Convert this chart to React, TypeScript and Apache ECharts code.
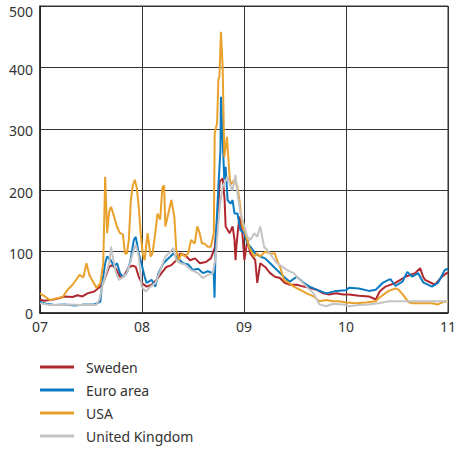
import React, { useEffect, useRef } from "react";
import * as echarts from "echarts";

// x values are decimal years, y values are basis points
const sweden: [number, number][] = [
  [2007.0, 22], [2007.039, 20], [2007.106, 21], [2007.165, 23], [2007.242, 27], [2007.319, 26], [2007.368, 29],
  [2007.416, 27], [2007.465, 32], [2007.532, 35], [2007.591, 43], [2007.62, 50], [2007.649, 62], [2007.678, 75],
  [2007.707, 78], [2007.745, 72], [2007.784, 59], [2007.823, 60], [2007.871, 75], [2007.91, 77], [2007.939, 75],
  [2007.968, 59], [2007.997, 49], [2008.045, 43], [2008.094, 46], [2008.142, 54], [2008.191, 65], [2008.239, 75],
  [2008.288, 78], [2008.336, 86], [2008.375, 97], [2008.423, 94], [2008.471, 86], [2008.52, 89], [2008.568, 81],
  [2008.626, 83], [2008.675, 89], [2008.713, 106], [2008.743, 162], [2008.762, 214], [2008.791, 219],
  [2008.81, 184], [2008.82, 141], [2008.859, 130], [2008.888, 141], [2008.907, 119], [2008.917, 86],
  [2008.926, 110], [2008.955, 157], [2008.984, 130], [2009.004, 86], [2009.033, 119], [2009.062, 97],
  [2009.11, 86], [2009.13, 49], [2009.159, 81], [2009.207, 75], [2009.256, 65], [2009.304, 59], [2009.352, 57],
  [2009.401, 49], [2009.449, 46], [2009.517, 46], [2009.585, 43], [2009.643, 41], [2009.711, 38], [2009.778, 32],
  [2009.836, 30], [2009.904, 32], [2009.972, 30], [2010.029, 30], [2010.127, 28], [2010.224, 27], [2010.292, 22],
  [2010.33, 35], [2010.388, 43], [2010.485, 49], [2010.582, 59], [2010.678, 65], [2010.727, 73], [2010.756, 59],
  [2010.775, 54], [2010.872, 46], [2010.94, 59], [2010.988, 65], [2011.0, 66],
];

const euroArea: [number, number][] = [
  [2007.0, 18], [2007.058, 15], [2007.145, 13], [2007.242, 14], [2007.339, 12], [2007.436, 14], [2007.532, 14],
  [2007.591, 18], [2007.61, 49], [2007.639, 81], [2007.658, 92], [2007.694, 86], [2007.726, 76], [2007.755, 81],
  [2007.784, 65], [2007.813, 59], [2007.852, 65], [2007.888, 86], [2007.92, 119], [2007.939, 124], [2007.968, 97],
  [2007.994, 81], [2008.026, 59], [2008.045, 49], [2008.094, 54], [2008.13, 43], [2008.162, 65], [2008.21, 81],
  [2008.239, 86], [2008.278, 92], [2008.307, 97], [2008.336, 92], [2008.372, 86], [2008.404, 81], [2008.452, 79],
  [2008.5, 70], [2008.549, 72], [2008.597, 65], [2008.646, 68], [2008.694, 65], [2008.704, 62], [2008.711, 25],
  [2008.723, 119], [2008.749, 206], [2008.769, 265], [2008.774, 352], [2008.791, 282], [2008.807, 217],
  [2008.82, 238], [2008.839, 184], [2008.868, 178], [2008.888, 184], [2008.907, 162], [2008.936, 162],
  [2008.965, 135], [2009.004, 130], [2009.033, 113], [2009.062, 108], [2009.11, 97], [2009.159, 92],
  [2009.207, 89], [2009.256, 81], [2009.323, 70], [2009.391, 59], [2009.449, 51], [2009.517, 59], [2009.585, 49],
  [2009.643, 43], [2009.711, 38], [2009.807, 32], [2009.904, 36], [2010.0, 37], [2010.029, 41], [2010.127, 40],
  [2010.224, 36], [2010.292, 38], [2010.359, 49], [2010.417, 54], [2010.437, 55], [2010.485, 44], [2010.553, 51],
  [2010.601, 67], [2010.65, 59], [2010.707, 65], [2010.756, 50], [2010.843, 43], [2010.901, 49], [2010.969, 70],
  [2011.0, 72],
];

const usa: [number, number][] = [
  [2007.0, 32], [2007.039, 28], [2007.097, 21], [2007.165, 24], [2007.223, 26], [2007.271, 38], [2007.319, 46],
  [2007.358, 55], [2007.387, 62], [2007.426, 58], [2007.455, 81], [2007.484, 62], [2007.523, 50], [2007.552, 41],
  [2007.591, 48], [2007.62, 80], [2007.639, 222], [2007.658, 130], [2007.678, 165], [2007.697, 173],
  [2007.726, 157], [2007.755, 140], [2007.784, 130], [2007.813, 128], [2007.833, 97], [2007.852, 97],
  [2007.871, 119], [2007.891, 184], [2007.91, 208], [2007.929, 217], [2007.949, 204], [2007.968, 173],
  [2007.987, 130], [2008.007, 97], [2008.026, 86], [2008.055, 130], [2008.084, 92], [2008.103, 97],
  [2008.13, 130], [2008.152, 162], [2008.178, 152], [2008.2, 204], [2008.217, 208], [2008.229, 141],
  [2008.258, 162], [2008.288, 184], [2008.317, 157], [2008.336, 103], [2008.362, 86], [2008.387, 97],
  [2008.42, 92], [2008.452, 97], [2008.481, 119], [2008.517, 113], [2008.542, 141], [2008.565, 130],
  [2008.588, 113], [2008.614, 113], [2008.646, 108], [2008.675, 108], [2008.704, 130], [2008.713, 293],
  [2008.736, 309], [2008.749, 380], [2008.759, 385], [2008.774, 458], [2008.791, 400], [2008.807, 254],
  [2008.833, 287], [2008.856, 228], [2008.868, 209], [2008.907, 217], [2008.936, 205], [2008.955, 184],
  [2008.984, 141], [2009.014, 130], [2009.049, 108], [2009.098, 92], [2009.13, 97], [2009.159, 92],
  [2009.207, 100], [2009.256, 97], [2009.304, 97], [2009.323, 86], [2009.352, 76], [2009.391, 54],
  [2009.439, 49], [2009.488, 43], [2009.546, 38], [2009.614, 32], [2009.682, 27], [2009.74, 19], [2009.807, 21],
  [2009.875, 19], [2009.933, 19], [2010.0, 17], [2010.098, 16], [2010.195, 17], [2010.292, 19], [2010.32, 24],
  [2010.417, 36], [2010.485, 40], [2010.514, 38], [2010.562, 29], [2010.611, 18], [2010.65, 16], [2010.746, 16],
  [2010.843, 16], [2010.901, 14], [2010.969, 19], [2011.0, 18],
];

const unitedKingdom: [number, number][] = [
  [2007.0, 16], [2007.097, 13], [2007.194, 13], [2007.29, 14], [2007.387, 13], [2007.484, 14], [2007.552, 13],
  [2007.581, 21], [2007.61, 43], [2007.649, 65], [2007.678, 81], [2007.697, 108], [2007.707, 97], [2007.745, 65],
  [2007.774, 54], [2007.803, 57], [2007.852, 65], [2007.891, 86], [2007.92, 103], [2007.939, 111], [2007.968, 92],
  [2007.997, 43], [2008.036, 35], [2008.084, 43], [2008.133, 49], [2008.181, 70], [2008.229, 92], [2008.278, 100],
  [2008.307, 106], [2008.336, 86], [2008.375, 81], [2008.423, 79], [2008.481, 70], [2008.549, 65], [2008.597, 57],
  [2008.646, 62], [2008.694, 65], [2008.723, 92], [2008.762, 173], [2008.791, 206], [2008.839, 222],
  [2008.868, 206], [2008.888, 200], [2008.917, 225], [2008.936, 195], [2008.965, 162], [2009.004, 141],
  [2009.033, 124], [2009.062, 119], [2009.101, 130], [2009.13, 124], [2009.159, 141], [2009.197, 108],
  [2009.226, 103], [2009.275, 92], [2009.323, 81], [2009.372, 76], [2009.42, 70], [2009.488, 65], [2009.546, 54],
  [2009.614, 43], [2009.682, 32], [2009.74, 14], [2009.807, 11], [2009.875, 15], [2009.972, 14], [2010.029, 11],
  [2010.127, 13], [2010.224, 14], [2010.32, 16], [2010.417, 19], [2010.553, 19], [2010.678, 19], [2010.843, 19],
  [2011.0, 19],
];

const seriesNames = ["Sweden", "Euro area", "USA", "United Kingdom"];
const seriesColors = ["#b0282f", "#0a7bc2", "#e9a12b", "#c4c4c4"];
const seriesData = [sweden, euroArea, usa, unitedKingdom];

const FONT = "'Noto Sans', sans-serif";

export default function App() {
  const ref = useRef<HTMLDivElement>(null);
  useEffect(() => {
    if (!ref.current) return;
    const chart = echarts.init(ref.current, undefined, { renderer: "svg" });
    chart.setOption({
      animation: false,
      grid: { left: 40, top: 6, right: 6, bottom: 137, show: true, borderColor: "#333", borderWidth: 1 },
      xAxis: {
        type: "value",
        min: 2007,
        max: 2011,
        interval: 1,
        axisLine: { lineStyle: { color: "#222", width: 1.5 } },
        axisTick: { show: false },
        splitLine: { show: true, lineStyle: { color: "#333", width: 1 } },
        axisLabel: {
          color: "#333",
          fontSize: 14,
          fontFamily: FONT,
          margin: 6,
          formatter: (v: number) => String(v).slice(2),
        },
      },
      yAxis: {
        type: "value",
        min: 0,
        max: 500,
        interval: 100,
        axisLine: { show: true, lineStyle: { color: "#222", width: 1.5 } },
        axisTick: { show: false },
        splitLine: { show: true, lineStyle: { color: "#333", width: 1 } },
        axisLabel: {
          color: "#333",
          fontSize: 14,
          fontFamily: FONT,
          margin: 7,
          formatter: (v: number) => (v === 500 ? "{t|" + v + "}" : v === 0 ? "{z|" + v + "}" : "{n|" + v + "}"),
          rich: {
            t: { fontSize: 14, fontFamily: FONT, color: "#333", padding: [10, 0, 0, 0] },
            n: { fontSize: 14, fontFamily: FONT, color: "#333", padding: [4, 0, 0, 0] },
            z: { fontSize: 14, fontFamily: FONT, color: "#333" },
          },
        },
      },
      legend: {
        orient: "vertical",
        left: 40,
        top: 359,
        height: 110,
        padding: 0,
        itemWidth: 34,
        itemHeight: 3,
        itemGap: 7,
        icon: "rect",
        textStyle: { color: "#333", fontSize: 14, fontFamily: FONT, lineHeight: 16, padding: [0, 0, 0, 7] },
        data: seriesNames,
      },
      series: seriesData.map((d, i) => ({
        name: seriesNames[i],
        type: "line",
        data: d,
        showSymbol: false,
        symbol: "none",
        color: seriesColors[i],
        lineStyle: { width: 2, color: seriesColors[i] },
        z: 2 + i,
      })),
    });
    return () => chart.dispose();
  }, []);
  return <div ref={ref} style={{ width: 459, height: 450, position: "absolute", left: 0, top: 0 }} />;
}
